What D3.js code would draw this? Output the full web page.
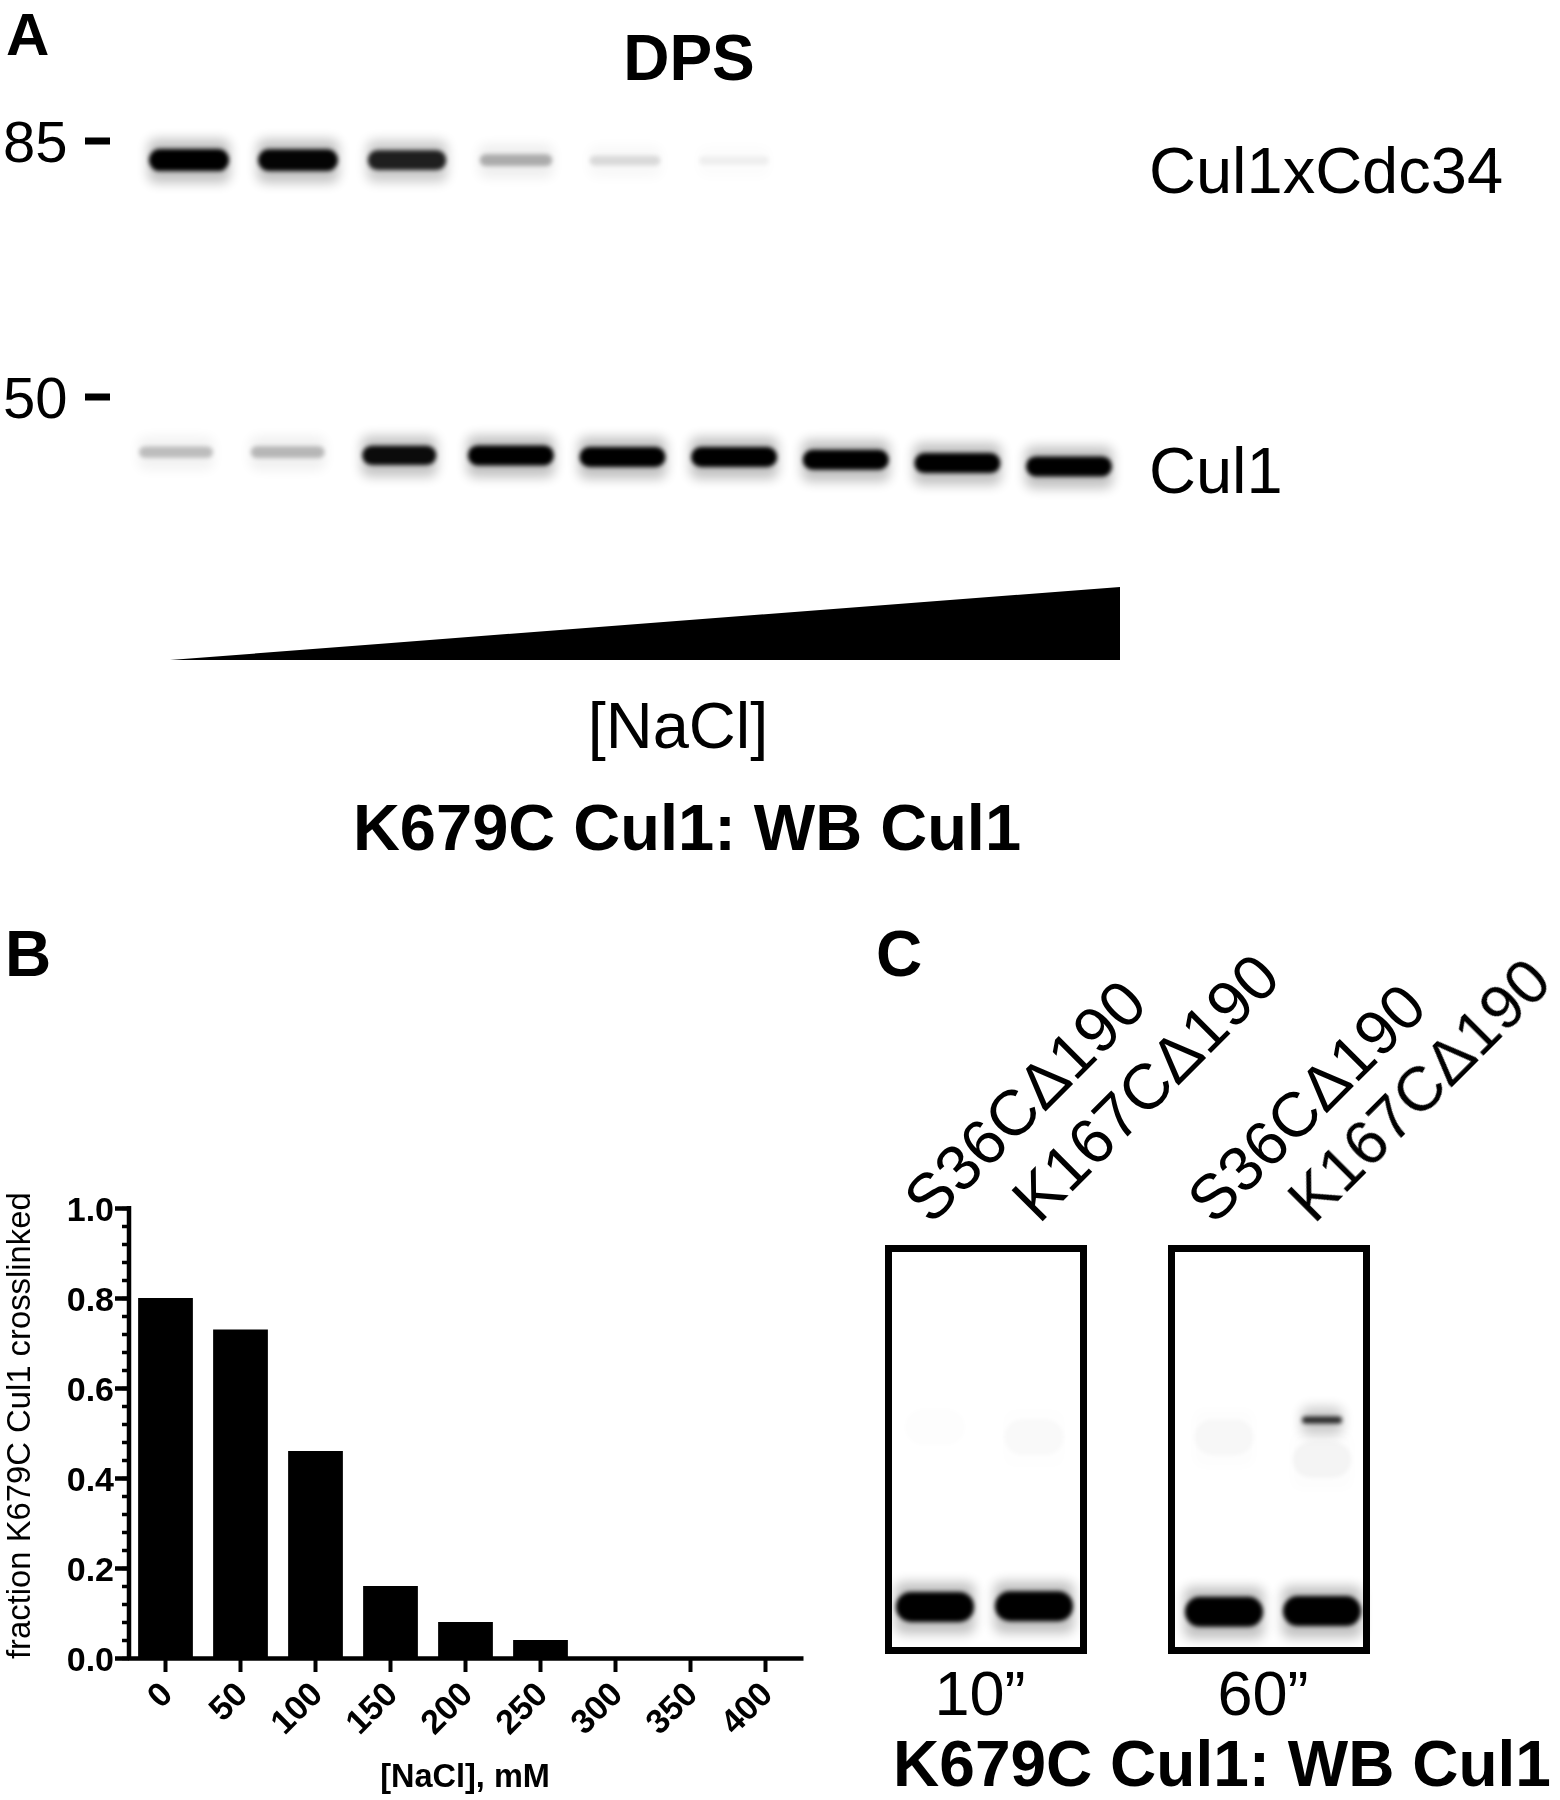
<!DOCTYPE html>
<html><head><meta charset="utf-8">
<script src="https://cdn.jsdelivr.net/npm/d3@7/dist/d3.min.js"></script>
<style>html,body{margin:0;padding:0;background:#fff}svg{display:block}text{font-family:"Liberation Sans",Arial,sans-serif;fill:#000}</style>
</head><body>
<div id="chart"></div>
<script>
// ---- Data ----
const saltConcentrations = ["0","50","100","150","200","250","300","350","400"];
const fractionCrosslinked = [0.80,0.73,0.46,0.16,0.08,0.04,0,0,0];
const fractionTicks = [0,0.2,0.4,0.6,0.8,1.0];
const fractionMinorTicks = d3.range(0,26).map(i=>i/25);

const markerWeights = [85,50];
const gelLanes = [0,1,2,3,4,5,6,7,8];
const crosslinkedIntensity = [1,0.98,0.85,0.28,0.12,0.05,0,0,0];
const crosslinkedWeight = [81.7,81.7,81.7,81.7,81.6,81.6,81.6,81.6,81.6];
const monomerIntensity = [0.22,0.24,0.95,1,1,1,1,1,1];
const monomerWeight = [44.6,44.6,44.3,44.3,44.15,44.15,43.9,43.6,43.3];

const panelCLanes = [0,1];
const timeLabels = ["10”","60”"];
const laneLabels = ["S36CΔ190","K167CΔ190"];
const bands10sLane = [0,1,0,1];
const bands10sMobility = [0.885,0.883,0.445,0.47];
const bands10sIntensity = [1,1,0.008,0.02];
const bands60sLane = [0,1,0,1,1];
const bands60sMobility = [0.897,0.895,0.47,0.428,0.525];
const bands60sIntensity = [1,1,0.025,0.8,0.035];

// ---- Layout ----
const W=1560,H=1800;
const svg=d3.select("#chart").append("svg").attr("width",W).attr("height",H).attr("viewBox",`0 0 ${W} ${H}`);
svg.append("rect").attr("width",W).attr("height",H).attr("fill","#fff");
const defs=svg.append("defs");
function blur(id,s){defs.append("filter").attr("id",id).attr("x","-50%").attr("y","-300%").attr("width","200%").attr("height","700%")
  .append("feGaussianBlur").attr("stdDeviation",s);}
blur("core",2.3);blur("halo",6);
defs.append("filter").attr("id","soft").attr("x","-2%").attr("y","-2%").attr("width","104%").attr("height","104%")
  .append("feGaussianBlur").attr("stdDeviation",0.55);
const root=svg.append("g").attr("filter","url(#soft)");

function label(t,x,y,size,opts={}){
  const s=root.append("text").attr("x",x).attr("y",y).attr("font-size",size).text(t)
    .attr("font-weight",opts.bold?"bold":"normal").attr("text-anchor",opts.anchor||"start");
  if(opts.rotate!==undefined) s.attr("transform",`rotate(${opts.rotate} ${x} ${y})`);
  return s;
}
function drawBand(g,cx,cy,w,h,intensity){
  if(intensity<=0) return;
  g.append("rect").attr("x",cx-w/2).attr("y",cy-h/2-10).attr("width",w).attr("height",h+22).attr("rx",8)
    .attr("fill","#000").attr("opacity",0.24*intensity).attr("filter","url(#halo)");
  g.append("rect").attr("x",cx-w/2+1).attr("y",cy-h/2).attr("width",w-2).attr("height",h).attr("rx",h/2)
    .attr("fill","#000").attr("opacity",Math.min(1,intensity)).attr("filter","url(#core)");
}

// ---- Panel A ----
label("A",6,54.5,60,{bold:true});
label("DPS",689,80,64,{bold:true,anchor:"middle"});
const kDa=d3.scaleLog().domain(markerWeights).range([141,397]);
markerWeights.forEach(m=>{
  label(String(m),3,kDa(m)+21,58);
  root.append("rect").attr("x",85).attr("y",kDa(m)-3.5).attr("width",25).attr("height",7).attr("fill","#000");
});
const laneUpper=d3.scaleLinear().domain([0,8]).range([189,1061]);
const laneLower=d3.scaleLinear().domain([0,8]).range([176,1069]);
const widthUpper=d3.scaleLinear().domain([0,1]).range([72,82]);
const heightUpper=d3.scaleLinear().domain([0,1]).range([8,22]);
const widthLower=d3.scaleLinear().domain([0.2,0.95,1]).range([76,76,88]);
const heightLower=d3.scaleLinear().domain([0,1]).range([9,20]);
const gelA=root.append("g");
gelLanes.forEach(i=>{
  drawBand(gelA,laneUpper(i),kDa(crosslinkedWeight[i]),widthUpper(crosslinkedIntensity[i]),heightUpper(crosslinkedIntensity[i]),crosslinkedIntensity[i]);
  drawBand(gelA,laneLower(i),kDa(monomerWeight[i]),widthLower(monomerIntensity[i]),heightLower(monomerIntensity[i]),monomerIntensity[i]);
});
label("Cul1xCdc34",1149,193,65);
label("Cul1",1149,493,65);
root.append("path").attr("d",d3.line()([[170,660],[1120,660],[1120,587]])+"Z").attr("fill","#000");
label("[NaCl]",678,748,65,{anchor:"middle"});
label("K679C Cul1: WB Cul1",687,850,65,{bold:true,anchor:"middle"});

// ---- Panel B ----
label("B",5,976,64,{bold:true});
const x=d3.scaleBand().domain(saltConcentrations).range([128,803]).paddingInner(0.27).paddingOuter(0.135);
const y=d3.scaleLinear().domain([0,1]).range([1658,1208]);
root.append("g").selectAll("rect").data(fractionCrosslinked).join("rect")
  .attr("x",(d,i)=>x(saltConcentrations[i])).attr("width",x.bandwidth())
  .attr("y",d=>y(d)).attr("height",d=>y(0)-y(d)).attr("fill","#000");
const minorAxis=root.append("g").attr("transform","translate(129,0)")
  .call(d3.axisLeft(y).tickValues(fractionMinorTicks).tickSize(7).tickFormat(""));
minorAxis.selectAll("path").remove();
minorAxis.selectAll("line").attr("stroke","#000").attr("stroke-width",3.5);
const yAxis=root.append("g").attr("transform","translate(129,0)")
  .call(d3.axisLeft(y).tickValues(fractionTicks).tickSize(14).tickPadding(1).tickFormat(d3.format(".1f")));
yAxis.selectAll("path").attr("stroke","#000").attr("stroke-width",4.5).attr("d","M0,1206V1660");
yAxis.selectAll("line").attr("stroke","#000").attr("stroke-width",4.5);
yAxis.selectAll("text").attr("font-size",34).attr("font-weight","bold").attr("font-family",'"Liberation Sans",Arial,sans-serif').attr("dy","0.36em");
const xAxis=root.append("g").attr("transform","translate(0,1658)")
  .call(d3.axisBottom(x).tickSize(14).tickSizeOuter(0));
xAxis.selectAll("path").attr("stroke","#000").attr("stroke-width",4.5);
xAxis.selectAll("line").attr("stroke","#000").attr("stroke-width",4);
xAxis.selectAll("text").attr("font-size",34).attr("font-weight","bold").attr("font-family",'"Liberation Sans",Arial,sans-serif')
  .attr("text-anchor","end").attr("x",0).attr("y",0).attr("dy",0).attr("transform","translate(9,38) rotate(-45)");
label("[NaCl], mM",465,1787,32.5,{bold:true,anchor:"middle"});
label("fraction K679C Cul1 crosslinked",30,1659,32.8,{rotate:-90});

// ---- Panel C ----
label("C",876,976,64,{bold:true});
const mobility=d3.scaleLinear().domain([0,1]).range([1245,1654]);
const widthC=d3.scaleLinear().domain([0.008,0.05,0.8,1]).range([62,60,42,80]);
const heightC=d3.scaleLinear().domain([0.008,0.05,0.8,1]).range([36,36,7,30]);
function gelC(left,laneX,lanes,mob,intensity,time,labelOffsets,labelSize){
  const boxW=202,boxH=409;
  const lx=d3.scaleLinear().domain(panelCLanes).range(laneX);
  const g=root.append("g");
  lanes.forEach((l,k)=>drawBand(g,lx(l),mobility(mob[k]),widthC(intensity[k]),heightC(intensity[k]),intensity[k]));
  root.append("rect").attr("x",left+3.5).attr("y",1248.5).attr("width",boxW-7).attr("height",boxH-7)
    .attr("fill","none").attr("stroke","#000").attr("stroke-width",7);
  label(time,left+95,1714.5,63,{anchor:"middle"});
  labelOffsets.forEach((p,k)=>label(laneLabels[k],left+p[0],p[1],labelSize,{rotate:-45}));
}
gelC(885,[935,1034],bands10sLane,bands10sMobility,bands10sIntensity,timeLabels[0],[[46,1226],[154,1225]],64);
gelC(1168,[1224,1322],bands60sLane,bands60sMobility,bands60sIntensity,timeLabels[1],[[46,1226],[146,1225]],63);
label("K679C Cul1: WB Cul1",1222,1786,64,{bold:true,anchor:"middle"});
</script>
</body></html>
